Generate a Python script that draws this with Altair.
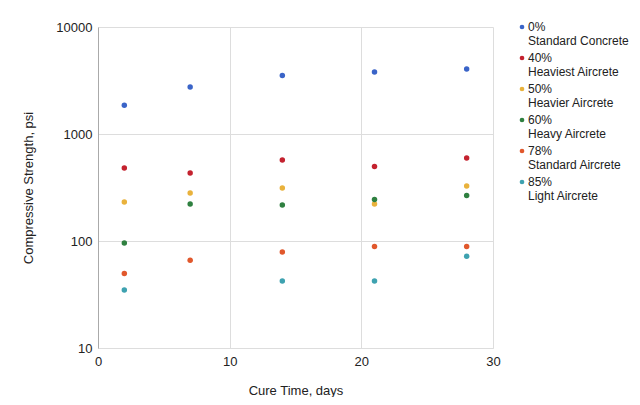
import altair as alt
import pandas as pd

series = [
    "0%|Standard Concrete",
    "40%|Heaviest Aircrete",
    "50%|Heavier Aircrete",
    "60%|Heavy Aircrete",
    "78%|Standard Aircrete",
    "85%|Light Aircrete",
]
colors = ["#3a64c8", "#c4222f", "#e9b23c", "#2f8040", "#e1582c", "#3ea2b0"]

days_all = [2, 7, 14, 21, 28]
days_light = [2, 14, 21, 28]

vals = {
    series[0]: [1860, 2750, 3520, 3800, 4050],
    series[1]: [480, 433, 572, 497, 597],
    series[2]: [231, 281, 313, 222, 327],
    series[3]: [96, 222, 217, 244, 266],
    series[4]: [49.7, 66, 79, 89, 89],
    series[5]: [34.8, 42.3, 42.3, 72],
}

rows = []
for s in series:
    d = days_light if s == series[5] else days_all
    for x, v in zip(d, vals[s]):
        rows.append({"Series": s, "Days": x, "Strength": v})
df = pd.DataFrame(rows)

font = "Liberation Sans"

chart = alt.Chart(df).mark_circle(size=30, opacity=1).encode(
    x=alt.X("Days:Q", scale=alt.Scale(domain=[0, 30], nice=False),
            axis=alt.Axis(title="Cure Time, days", values=[0, 10, 20, 30],
                          ticks=False, domainColor="#dddddd", labelPadding=7,
                          titlePadding=16, labelFlush=False)),
    y=alt.Y("Strength:Q", scale=alt.Scale(type="log", domain=[10, 10000], nice=False),
            axis=alt.Axis(title="Compressive Strength, psi", values=[10, 100, 1000, 10000],
                          format="d", ticks=False, domainColor="#aaaaaa", labelPadding=6,
                          titlePadding=20, labelFlush=False)),
    color=alt.Color("Series:N", sort=series,
                    scale=alt.Scale(domain=series, range=colors),
                    legend=alt.Legend(title=None, orient="none", legendX=418, legendY=-6,
                                      labelExpr="split(datum.label, '|')",
                                      symbolType="circle", symbolSize=22,
                                      labelFontSize=12, labelFont=font,
                                      labelColor="#222222", labelBaseline="middle",
                                      labelOffset=0, rowPadding=5,
                                      labelLimit=200)),
).properties(
    width=395, height=321,
    autosize=alt.AutoSizeParams(type="none"),
    padding={"left": 90, "top": 19, "right": 139, "bottom": 49},
).configure_axis(
    labelFont=font, titleFont=font, labelFontSize=13, titleFontSize=13,
    labelColor="#222222", titleColor="#222222", titleFontWeight="normal",
    gridColor="#dddddd", gridWidth=1,
).configure_view(stroke=None)

chart.save("out.html", embed_options={"renderer": "svg", "actions": False})
